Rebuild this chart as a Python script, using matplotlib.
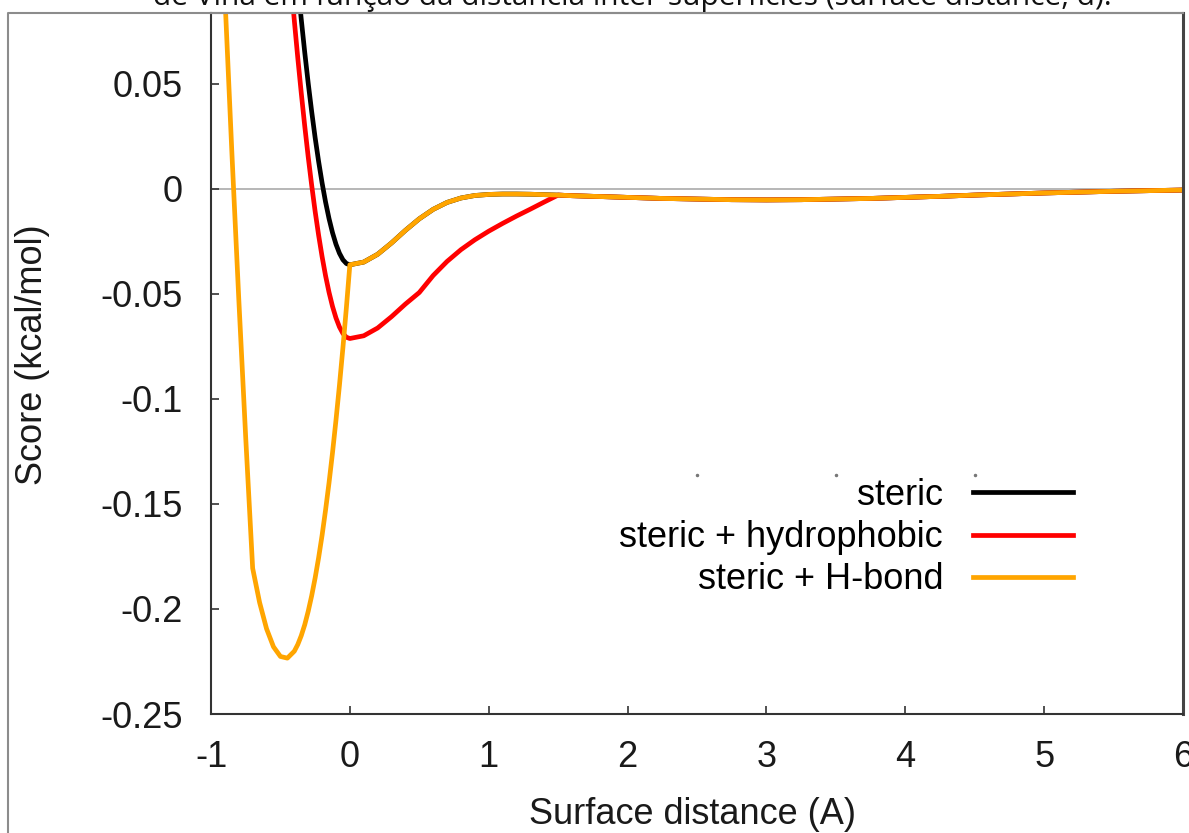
import matplotlib.pyplot as plt
from matplotlib.lines import Line2D

# surface distance (A) and Vina score terms (kcal/mol)
distance = [-0.9, -0.85, -0.8, -0.75, -0.7, -0.65, -0.6, -0.55, -0.5, -0.45,
            -0.4, -0.375, -0.35, -0.325, -0.3, -0.275, -0.25, -0.225, -0.2,
            -0.175, -0.15, -0.125, -0.1, -0.075, -0.05, -0.025, 0.0,
            0.1, 0.2, 0.3, 0.4, 0.5, 0.6, 0.7, 0.8, 0.9, 1.0, 1.1, 1.2, 1.3,
            1.4, 1.5, 1.6, 1.8, 2.0, 2.25, 2.5, 2.75, 3.0, 3.25, 3.5, 3.75,
            4.0, 4.25, 4.5, 4.75, 5.0, 5.25, 5.5, 5.75, 6.0]

steric = [0.6789, 0.6048, 0.5347, 0.4686, 0.4064, 0.3481, 0.2938, 0.2433,
          0.1967, 0.1540, 0.1153, 0.0975, 0.0808, 0.0651, 0.0504, 0.0369,
          0.0244, 0.0131, 0.0029, -0.0062, -0.0141, -0.0208, -0.0263,
          -0.0306, -0.0337, -0.0355, -0.0361,
          -0.0348, -0.0311, -0.0257, -0.0197, -0.0142, -0.0097, -0.0064,
          -0.0043, -0.0031, -0.0026, -0.0024, -0.0024, -0.0025, -0.0027,
          -0.0029, -0.0032, -0.0036, -0.0040, -0.0045, -0.0048, -0.0051,
          -0.0052, -0.0051, -0.0048, -0.0045, -0.0040, -0.0035, -0.0029,
          -0.0024, -0.0019, -0.0015, -0.0011, -0.0008, -0.0005]

steric_hydrophobic = [0.6438, 0.5697, 0.4996, 0.4335, 0.3713, 0.3130, 0.2587,
                      0.2082, 0.1616, 0.1189, 0.0802, 0.0624, 0.0457, 0.0300,
                      0.0153, 0.0018, -0.0107, -0.0220, -0.0322, -0.0413,
                      -0.0492, -0.0559, -0.0614, -0.0657, -0.0688, -0.0706,
                      -0.0712,
                      -0.0699, -0.0662, -0.0608, -0.0548, -0.0493, -0.0412,
                      -0.0345, -0.0289, -0.0242, -0.0201, -0.0164, -0.0129,
                      -0.0096, -0.0062, -0.0029, -0.0032, -0.0036, -0.0040,
                      -0.0045, -0.0048, -0.0051, -0.0052, -0.0051, -0.0048,
                      -0.0045, -0.0040, -0.0035, -0.0029, -0.0024, -0.0019,
                      -0.0015, -0.0011, -0.0008, -0.0005]

steric_hbond = [0.0919, 0.0178, -0.0523, -0.1184, -0.1806, -0.1969, -0.2094,
                -0.2180, -0.2226, -0.2234, -0.2201, -0.2169, -0.2127, -0.2075,
                -0.2011, -0.1937, -0.1852, -0.1756, -0.1649, -0.1529, -0.1399,
                -0.1256, -0.1101, -0.0935, -0.0756, -0.0565, -0.0361,
                -0.0348, -0.0311, -0.0257, -0.0197, -0.0142, -0.0097, -0.0064,
                -0.0043, -0.0031, -0.0026, -0.0024, -0.0024, -0.0025, -0.0027,
                -0.0029, -0.0032, -0.0036, -0.0040, -0.0045, -0.0048, -0.0051,
                -0.0052, -0.0051, -0.0048, -0.0045, -0.0040, -0.0035, -0.0029,
                -0.0024, -0.0019, -0.0015, -0.0011, -0.0008, -0.0005]

series_labels = ['steric', 'steric + hydrophobic', 'steric + H-bond']
x_ticks = [-1, 0, 1, 2, 3, 4, 5, 6]
x_tick_labels = ['-1', '0', '1', '2', '3', '4', '5', '6']
y_ticks = [0.05, 0, -0.05, -0.1, -0.15, -0.2, -0.25]
y_tick_labels = ['0.05', '0', '-0.05', '-0.1', '-0.15', '-0.2', '-0.25']
stray_x = [2.5, 3.5, 4.5]
stray_y = [-0.136, -0.136, -0.136]

caption = 'de Vina em função da distância inter-superfícies (surface distance, d).'

plt.rcParams['font.family'] = ['Liberation Sans', 'DejaVu Sans']

W, H = 1189, 833
fig = plt.figure(figsize=(W / 100, H / 100), dpi=100)
ax = fig.add_axes([211 / W, 1 - 714 / H, 972 / W, 701 / H])

# screenshot frame + cut-off caption above the chart
fig.add_artist(Line2D([8 / W, 8 / W, 1183 / W], [0, 1 - 13 / H, 1 - 13 / H],
                      color='#8c8c8c', lw=1.5, transform=fig.transFigure))
fig.text(153 / W, 1 - 5 / H, caption, fontsize=21.5, family=['Open Sans', 'DejaVu Sans'],
         ha='left', va='baseline', color='#111111')

ax.axhline(0, color='#aaaaaa', lw=1.2, zorder=1)
ax.plot(distance, steric, color='black', lw=3.4, label=series_labels[0])
ax.plot(distance, steric_hydrophobic, color='#ff0000', lw=3.4, label=series_labels[1])
ax.plot(distance, steric_hbond, color='#ffa500', lw=3.4, label=series_labels[2])
ax.plot(stray_x, stray_y, ls='none', marker='o', ms=1.5, color='#777777')

ax.set_xlim(-1, 6)
ax.set_ylim(-0.25, 0.0838)
ax.set_xticks(x_ticks)
ax.set_xticklabels(x_tick_labels)
ax.set_yticks(y_ticks)
ax.set_yticklabels(y_tick_labels)
ax.tick_params(direction='in', length=6, width=1.2, color='#333333',
               labelsize=26, labelcolor='#1a1a1a')
ax.tick_params(axis='x', pad=18.5)
ax.tick_params(axis='y', pad=20.5)

for side in ['left', 'bottom']:
    ax.spines[side].set_color('#333333')
    ax.spines[side].set_linewidth(1.5)
ax.spines['right'].set_color('#444444')
ax.spines['right'].set_linewidth(2.2)
ax.spines['top'].set_color('#8c8c8c')
ax.spines['top'].set_linewidth(1.5)

ax.set_xlabel('Surface distance (A)', fontsize=26, color='#1a1a1a')
ax.xaxis.set_label_coords(0.4949, -0.118)
ax.set_ylabel('Score (kcal/mol)', fontsize=26, color='#1a1a1a')
ax.yaxis.set_label_coords(-0.1656, 0.512)

ax.legend(loc='upper right', bbox_to_anchor=(1073 / W, 1 - 478 / H),
          bbox_transform=fig.transFigure, frameon=False, markerfirst=False,
          handlelength=2.77, handletextpad=0.83, labelspacing=0.2,
          borderpad=0, borderaxespad=0, fontsize=26)

fig.savefig('out.png', dpi=100)
